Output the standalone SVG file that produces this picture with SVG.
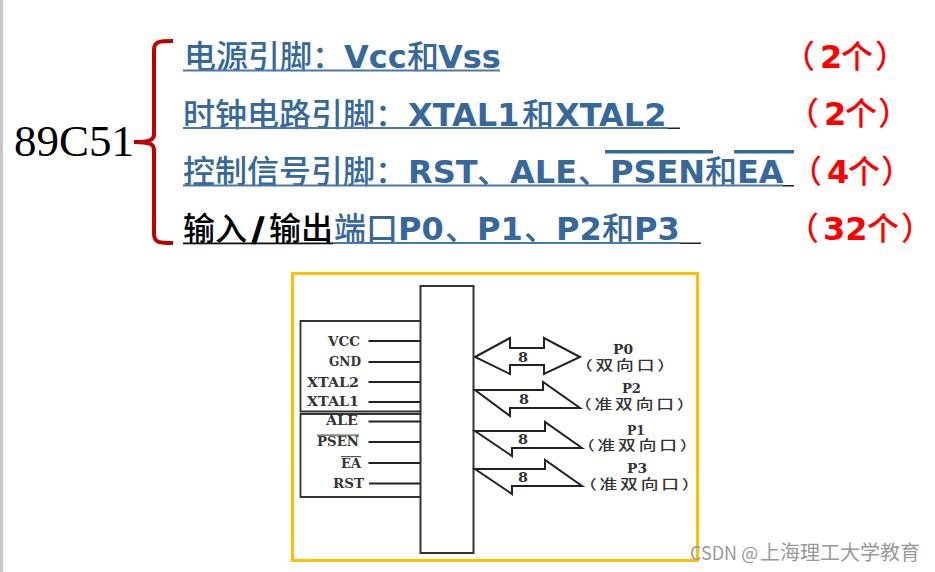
<svg xmlns="http://www.w3.org/2000/svg" width="935" height="572" viewBox="0 0 935 572">
<style>
text{white-space:pre}
.cjk{font-family:"Noto Sans CJK SC","Noto Sans",sans-serif;font-size:32px;font-weight:500}
.lat{font-family:"DejaVu Sans",sans-serif;font-weight:700;font-size:32px}
.blue{fill:#36689C}
.red{fill:#FF0000}
.blk{fill:#000}
.ul{fill:#4A78A8}
.pin{stroke:#222;stroke-width:2;fill:none}
.box{stroke:#333;stroke-width:1.8;fill:none}
.bus{stroke:#222;stroke-width:2;fill:#fff;stroke-linejoin:miter}
.lab{font-family:"DejaVu Serif",serif;font-weight:700;font-size:12px;fill:#333}
.num{font-family:"DejaVu Serif",serif;font-weight:700;font-size:12.500px;fill:#333}
.sub{font-family:"Noto Sans CJK SC",sans-serif;font-size:14px;font-weight:500;fill:#333;letter-spacing:2.2px}
</style>
<rect width="935" height="572" fill="#fff"/>
<rect x="0" y="0" width="3" height="572" fill="#c8c8c8"/>
<g id="title">
<text x="14" y="156" font-family="Liberation Serif,serif" font-size="45" fill="#000">89C51</text>
</g>
<g id="brace">
<path d="M173 41 C160 41 154 41 154 50 L154 134 C154 140 150 142 134 142 C150 142 154 144 154 150 L154 234 C154 243 160 243 173 243" fill="none" stroke="#C00000" stroke-width="4"/>
</g>
<g id="line1">
<text y="68"><tspan class="cjk blue" x="184">电源引脚：</tspan><tspan class="lat blue" x="344">Vcc</tspan><tspan class="cjk blue" x="407">和</tspan><tspan class="lat blue" x="438">Vss</tspan></text>
<rect class="ul" x="183" y="69.500" width="317" height="2"/>
<text y="68"><tspan class="cjk red" x="783">（</tspan><tspan class="lat red" x="820">2</tspan><tspan class="cjk red" x="841">个</tspan><tspan class="cjk red" x="875">）</tspan></text>
</g>
<g id="line2">
<text y="126"><tspan class="cjk blue" x="183">时钟电路引脚：</tspan><tspan class="lat blue" x="408">XTAL1</tspan><tspan class="cjk blue" x="522">和</tspan><tspan class="lat blue" x="555">XTAL2</tspan></text>
<rect class="ul" x="183" y="127" width="485" height="2"/>
<rect x="668" y="127.500" width="12" height="1.500" fill="#222"/>
<text y="125"><tspan class="cjk red" x="787">（</tspan><tspan class="lat red" x="824">2</tspan><tspan class="cjk red" x="845">个</tspan><tspan class="cjk red" x="878">）</tspan></text>
</g>
<g id="line3">
<text y="183"><tspan class="cjk blue" x="183">控制信号引脚：</tspan><tspan class="lat blue" x="408">RST</tspan><tspan class="cjk blue" x="477">、</tspan><tspan class="lat blue" x="510">ALE</tspan><tspan class="cjk blue" x="578">、</tspan><tspan class="lat blue" x="610">PSEN</tspan><tspan class="cjk blue" x="705">和</tspan><tspan class="lat blue" x="737">EA</tspan></text>
<rect class="ul" x="183" y="184.500" width="600" height="2"/>
<rect x="783" y="185" width="11" height="1.500" fill="#222"/>
<rect class="blue" x="605" y="150" width="108" height="3.500"/>
<rect class="blue" x="734" y="150" width="60" height="3.500"/>
<text y="183"><tspan class="cjk red" x="790">（</tspan><tspan class="lat red" x="827">4</tspan><tspan class="cjk red" x="848">个</tspan><tspan class="cjk red" x="881">）</tspan></text>
</g>
<g id="line4">
<text y="240"><tspan class="cjk blk" x="183" font-weight="700">输入</tspan><tspan class="lat blk" x="252" stroke="#000" stroke-width="1.500">/</tspan><tspan class="cjk blk" x="269" font-weight="700">输出</tspan><tspan class="cjk blue" x="334">端口</tspan><tspan class="lat blue" x="398">P0</tspan><tspan class="cjk blue" x="445">、</tspan><tspan class="lat blue" x="477">P1</tspan><tspan class="cjk blue" x="524">、</tspan><tspan class="lat blue" x="556">P2</tspan><tspan class="cjk blue" x="602">和</tspan><tspan class="lat blue" x="634">P3</tspan></text>
<rect x="183" y="242.500" width="150" height="1.800" fill="#111"/>
<rect class="ul" x="333" y="242" width="347" height="2"/>
<rect x="680" y="242.500" width="21" height="1.500" fill="#222"/>
<text y="240"><tspan class="cjk red" x="787">（</tspan><tspan class="lat red" x="823">32</tspan><tspan class="cjk red" x="867">个</tspan><tspan class="cjk red" x="901">）</tspan></text>
</g>
<g id="frame"><rect x="292.500" y="273.500" width="405" height="287" fill="#fff" stroke="#FFC000" stroke-width="3"/></g>
<g id="chip"><rect x="420.500" y="286" width="53" height="267" fill="#fff" stroke="#333" stroke-width="2"/></g>
<g id="connectors">
<path class="box" d="M421 321H300.500V411.500H421M421 414H300.500V497H421"/>
<path class="pin" d="M368.500 341H420M368.500 362H420M368.500 382H420M368.500 402H420M368.500 421.500H420M368.500 442H420M368.500 463H420M369 483.500H420"/>
<polygon class="bus" points="475,357 510,338 510,348 544,348 544,338 580,357 544,374 544,365 510,365 510,374"/>
<polygon class="bus" points="475,390 543,390 543,382 580,408 510,408 510,416"/>
<polygon class="bus" points="475,431 545,431 545,422 582,448 512,448 512,456"/>
<polygon class="bus" points="475,469 545,469 545,460 582,486 512,486 512,494"/>
</g>
<g id="pin-labels">
<text class="lab" x="328" y="345.500" textLength="32" lengthAdjust="spacingAndGlyphs">VCC</text>
<text class="lab" x="329" y="366" textLength="32" lengthAdjust="spacingAndGlyphs">GND</text>
<text class="lab" x="307" y="386.500" textLength="52" lengthAdjust="spacingAndGlyphs">XTAL2</text>
<text class="lab" x="307" y="406" textLength="52" lengthAdjust="spacingAndGlyphs">XTAL1</text>
<text class="lab" x="326" y="424.500" textLength="32" lengthAdjust="spacingAndGlyphs">ALE</text>
<text class="lab" x="317" y="445.500" textLength="42" lengthAdjust="spacingAndGlyphs">PSEN</text>
<rect x="317" y="434.500" width="42" height="1.200" fill="#555"/>
<text class="lab" x="341" y="467.500" textLength="20" lengthAdjust="spacingAndGlyphs">EA</text>
<rect x="341" y="456" width="20" height="1.200" fill="#555"/>
<text class="lab" x="333" y="488" textLength="31" lengthAdjust="spacingAndGlyphs">RST</text>
</g>
<g id="port-labels">
<text class="num" x="518" y="361.500" textLength="10" lengthAdjust="spacingAndGlyphs">8</text>
<text class="num" x="519" y="403.500" textLength="10" lengthAdjust="spacingAndGlyphs">8</text>
<text class="num" x="518" y="443.500" textLength="10" lengthAdjust="spacingAndGlyphs">8</text>
<text class="num" x="518" y="481.500" textLength="10" lengthAdjust="spacingAndGlyphs">8</text>
<text class="num" x="613" y="354" textLength="20" lengthAdjust="spacingAndGlyphs">P0</text>
<text class="sub" transform="translate(575 369.500) scale(1.270 .95)">（双向口）</text>
<text class="num" x="622" y="393" textLength="19" lengthAdjust="spacingAndGlyphs">P2</text>
<text class="sub" transform="translate(574 409) scale(1.270 .95)">（准双向口）</text>
<text class="num" x="627" y="435" textLength="18" lengthAdjust="spacingAndGlyphs">P1</text>
<text class="sub" transform="translate(577 449.500) scale(1.270 .95)">（准双向口）</text>
<text class="num" x="627" y="473" textLength="20" lengthAdjust="spacingAndGlyphs">P3</text>
<text class="sub" transform="translate(579 488.500) scale(1.270 .95)">（准双向口）</text>
</g>
<g id="watermark">
<text x="690" y="560" font-family="Noto Sans CJK SC,sans-serif" font-size="18" fill="#999"><tspan>CSDN @</tspan><tspan x="760" font-size="20">上海理工大学教育</tspan></text>
</g>
</svg>
